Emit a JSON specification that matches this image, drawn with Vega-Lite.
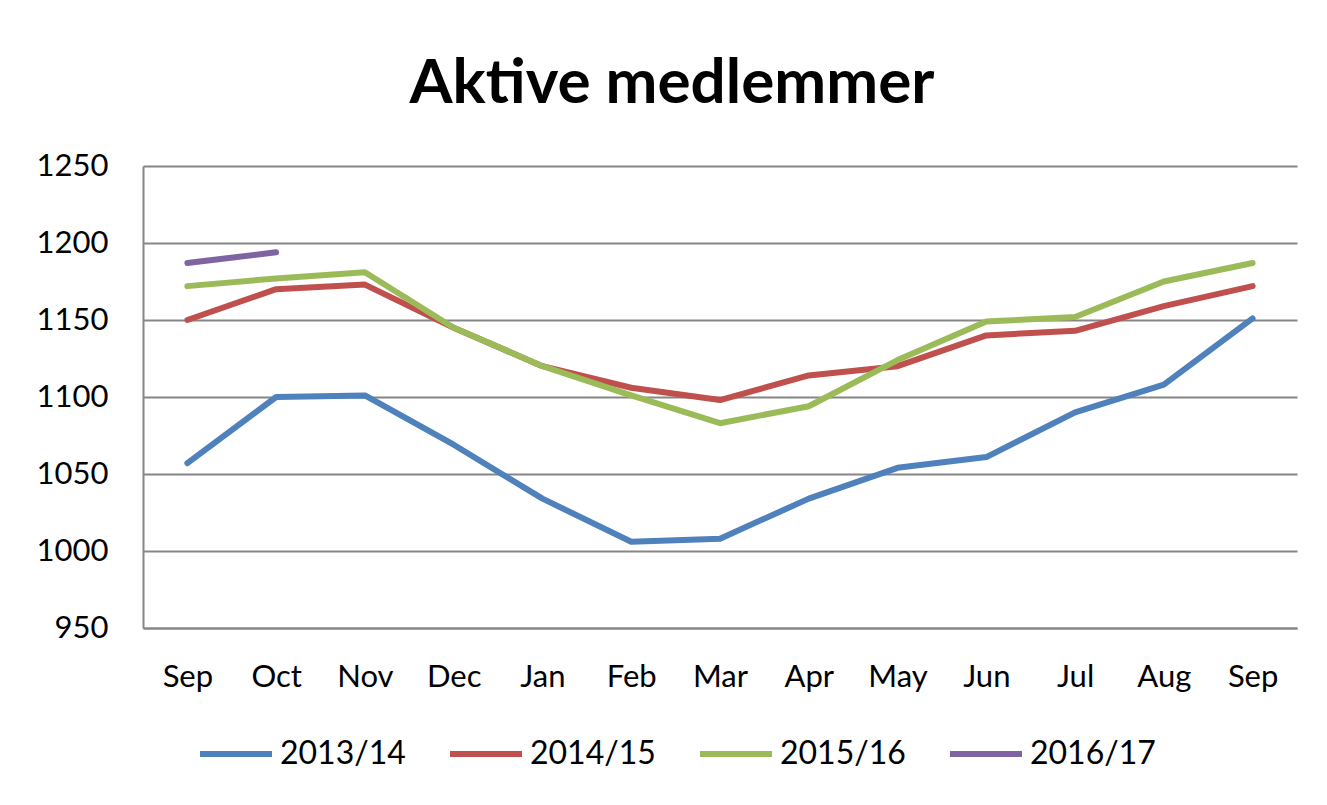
{
  "$schema": "https://vega.github.io/schema/vega-lite/v6.json",
  "width": 1154,
  "height": 462,
  "autosize": {"type": "none"},
  "padding": {"left": 143, "top": 166, "right": 30, "bottom": 177},
  "background": "white",
  "title": {
    "text": "Aktive medlemmer",
    "font": "Lato",
    "fontSize": 62,
    "fontWeight": "bold",
    "color": "#000000",
    "anchor": "middle",
    "frame": "group",
    "dx": -48,
    "offset": 34
  },
  "data": {
    "values": [
      {"season": "2013/14", "m": "Sep", "v": 1057},
      {"season": "2013/14", "m": "Oct", "v": 1100},
      {"season": "2013/14", "m": "Nov", "v": 1101},
      {"season": "2013/14", "m": "Dec", "v": 1069},
      {"season": "2013/14", "m": "Jan", "v": 1034},
      {"season": "2013/14", "m": "Feb", "v": 1006},
      {"season": "2013/14", "m": "Mar", "v": 1008},
      {"season": "2013/14", "m": "Apr", "v": 1034},
      {"season": "2013/14", "m": "May", "v": 1054},
      {"season": "2013/14", "m": "Jun", "v": 1061},
      {"season": "2013/14", "m": "Jul", "v": 1090},
      {"season": "2013/14", "m": "Aug", "v": 1108},
      {"season": "2013/14", "m": "Sep2", "v": 1151},
      {"season": "2014/15", "m": "Sep", "v": 1150},
      {"season": "2014/15", "m": "Oct", "v": 1170},
      {"season": "2014/15", "m": "Nov", "v": 1173},
      {"season": "2014/15", "m": "Dec", "v": 1145},
      {"season": "2014/15", "m": "Jan", "v": 1120},
      {"season": "2014/15", "m": "Feb", "v": 1106},
      {"season": "2014/15", "m": "Mar", "v": 1098},
      {"season": "2014/15", "m": "Apr", "v": 1114},
      {"season": "2014/15", "m": "May", "v": 1120},
      {"season": "2014/15", "m": "Jun", "v": 1140},
      {"season": "2014/15", "m": "Jul", "v": 1143},
      {"season": "2014/15", "m": "Aug", "v": 1159},
      {"season": "2014/15", "m": "Sep2", "v": 1172},
      {"season": "2015/16", "m": "Sep", "v": 1172},
      {"season": "2015/16", "m": "Oct", "v": 1177},
      {"season": "2015/16", "m": "Nov", "v": 1181},
      {"season": "2015/16", "m": "Dec", "v": 1145},
      {"season": "2015/16", "m": "Jan", "v": 1120},
      {"season": "2015/16", "m": "Feb", "v": 1101},
      {"season": "2015/16", "m": "Mar", "v": 1083},
      {"season": "2015/16", "m": "Apr", "v": 1094},
      {"season": "2015/16", "m": "May", "v": 1124},
      {"season": "2015/16", "m": "Jun", "v": 1149},
      {"season": "2015/16", "m": "Jul", "v": 1152},
      {"season": "2015/16", "m": "Aug", "v": 1175},
      {"season": "2015/16", "m": "Sep2", "v": 1187},
      {"season": "2016/17", "m": "Sep", "v": 1187},
      {"season": "2016/17", "m": "Oct", "v": 1194}
    ]
  },
  "mark": {"type": "line", "strokeWidth": 6, "strokeCap": "round", "strokeJoin": "round"},
  "encoding": {
    "x": {
      "field": "m",
      "type": "ordinal",
      "sort": ["Sep", "Oct", "Nov", "Dec", "Jan", "Feb", "Mar", "Apr", "May", "Jun", "Jul", "Aug", "Sep2"],
      "scale": {"type": "point", "padding": 0.5},
      "axis": {
        "title": null,
        "labelExpr": "replace(datum.label, '2', '')",
        "labelAngle": 0,
        "labelFont": "Lato",
        "labelFontSize": 31,
        "labelColor": "#000000",
        "labelPadding": 34,
        "ticks": false,
        "grid": false,
        "domainColor": "#868686",
        "domainWidth": 2
      }
    },
    "y": {
      "field": "v",
      "type": "quantitative",
      "scale": {"domain": [950, 1250], "nice": false, "zero": false},
      "axis": {
        "title": null,
        "format": "d",
        "values": [950, 1000, 1050, 1100, 1150, 1200, 1250],
        "labelFont": "Lato",
        "labelFontSize": 31,
        "labelColor": "#000000",
        "labelPadding": 35,
        "ticks": false,
        "grid": true,
        "gridColor": "#868686",
        "gridWidth": 2,
        "domainColor": "#868686",
        "domainWidth": 2
      }
    },
    "color": {
      "field": "season",
      "type": "nominal",
      "scale": {
        "domain": ["2013/14", "2014/15", "2015/16", "2016/17"],
        "range": ["#4F81BD", "#C0504D", "#9BBB59", "#8064A2"]
      },
      "legend": {
        "title": null,
        "orient": "none",
        "legendX": 54,
        "legendY": 549,
        "direction": "horizontal",
        "symbolType": "stroke",
        "symbolSize": 5184,
        "symbolStrokeWidth": 6,
        "labelFont": "Lato",
        "labelFontSize": 32,
        "labelColor": "#000000",
        "labelOffset": 5,
        "columnPadding": 32
      }
    }
  },
  "config": {
    "view": {"stroke": null}
  }
}
